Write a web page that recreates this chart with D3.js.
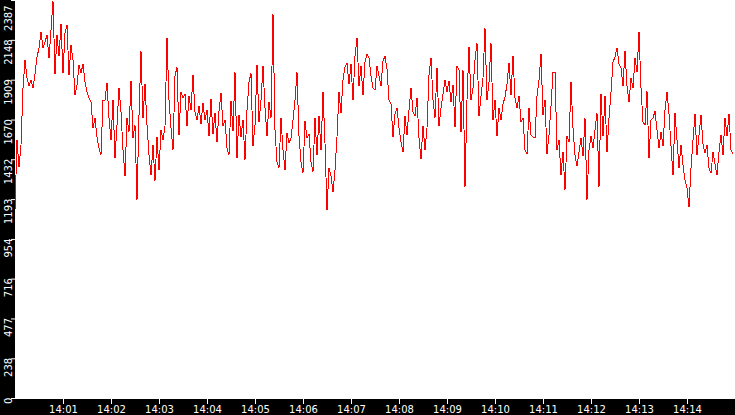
<!DOCTYPE html>
<html>
<head>
<meta charset="utf-8">
<script src="https://cdn.jsdelivr.net/npm/d3@7"></script>
<style>
  body { margin: 0; background: #000; }
  svg { display: block; }
  .axis text { font-family: "DejaVu Sans", sans-serif; font-size: 10px; fill: #fff; }
  .axis line { stroke: #fff; }
</style>
</head>
<body>
<svg id="chart" width="735" height="415"></svg>
<script>
// samples every 2.5 s starting 14:00:00
const part1 = [1127,1547,1385,1517,1859,2027,1919,1871,1907,1859,1943,2045,2099,2195,2099,2135,2177,2039,2207,2381,
  1943,2177,2051,2243,1949,2189,2237,1937,2117,2027,1817,1877,1997,1949,2003,1895,1835,1799,1775,1619,
  1679,1565,1499,1457,1787];
const part2 = [1787,1889,1679,1547,1787,1439,1637,1859,1715,1487,1331,1679,1595,1901,1559,1637,1187,1697,2081,1679,
  1883,1637,1457,1337,1517,1301,1565,1367,1607,1547,1631,2159,1787,1619,1487,1931,1985,1577,1835,1799,
  1823,1631,1811,1727,1937];
const part3 = [1715,1667,1751,1643,1769,1667,1727,1571,1793,1583,1709,1535,1721,1829,1631,1667,1499,1457,1781,1601,
  1955,1439,1697,1565,1667,1427,1727,1895,1949,1511,1637,1997,1655,1787,1991,1739,1571,1775,1679,2303,
  1607,1415,1379,1679,1487];
const part4 = [1367,1589,1529,1559,1667,1787,1955,1571,1415,1349,1661,1559,1583,1415,1355,1679,1457,1691,1487,1835,
  1529,1127,1379,1331,1235,1367,1565,1835,1709,1907,1985,2009,1883,2003,1787,2051,2159,1871,1991,1817,
  2015,2063,2039,1931,1859];
const part5 = [1847,1991,1931,1871,2021,2051,1973,1787,1763,1565,1703,1739,1619,1535,1475,1691,1577,1727,1859,1715,
  1691,1799,1559,1433,1631,1487,1619,1937,2039,1787,1679,1979,1631,1739,1823,1907,1835,1901,1775,1877,
  1625,1991,1967,1595,1967];
const part6 = [1265,1787,2105,1787,1859,2027,2129,1691,1811,1919,2219,1787,1895,2129,1667,1787,1571,1739,1667,1763,
  1805,1883,2009,1817,2051,1799,1739,1811,1655,1679,1487,1463,1739,1577,1565,1559,1811,1907,2063,1697,
  1787,1463,1577,1751,1955];
const part7 = [1955,1487,1547,1337,1475,1247,1571,1535,1895,1619,1457,1391,1475,1559,1451,1679,1187,1487,1571,1499,
  1607,1709,1265,1823,1571,1811,1475,1679,1835,2015,2045,2099,2003,1979,1871,2081,1871,1775,1919,1859,
  2039,1955,2195,1859,1655];
const part8 = [1637,1841,1439,1667,1679,1721,1607,1499,1595,1511,1727,1835,1703,1511,1337,1709,1547,1379,1517,1397,
  1307,1259,1145,1379,1547,1703,1457,1577,1697,1523,1469,1517,1379,1349,1475,1403,1337,1475,1577,1457,
  1679,1571,1703,1487,1463];

const yTickValues = [0, 238, 477, 716, 954, 1193, 1432, 1670, 1909, 2148, 2387];
const xTickLabels = ["14:01","14:02","14:03","14:04","14:05","14:06","14:07","14:08",
  "14:09","14:10","14:11","14:12","14:13","14:14"];

const width = 735, height = 415;
const left = 15, bottom = 399;
const stepMs = 2500;
const t0 = new Date(2000, 0, 1, 14, 0, 0);
const t1 = new Date(2000, 0, 1, 14, 15, 0);

let values = part1.concat(part2, part3, part4, part5, part6, part7, part8);
let series = values.map((v, i) => ({ t: new Date(t0.getTime() + i * stepMs), v: v }));

let svg = d3.select("#chart");

let x = d3.scaleTime().domain([t0, t1]).range([left, width]);
let y = d3.scaleLinear().domain([0, 2387]).range([bottom - 1, 0]);

svg.append("rect")
  .attr("width", width)
  .attr("height", height)
  .attr("fill", "#000");

// white plot area
svg.append("rect")
  .attr("x", left)
  .attr("y", 0)
  .attr("width", width - left)
  .attr("height", bottom)
  .attr("fill", "#fff");

let line = d3.line()
  .x(d => x(d.t))
  .y(d => y(d.v));

svg.append("path")
  .datum(series)
  .attr("d", line)
  .attr("fill", "none")
  .attr("stroke", "#ff0000")
  .attr("stroke-width", 1)
  .attr("shape-rendering", "crispEdges");

// time axis
let xTicks = xTickLabels.map(s => {
  let p = s.split(":");
  return new Date(2000, 0, 1, +p[0], +p[1], 0);
});
let xAxis = svg.append("g")
  .attr("class", "axis")
  .attr("transform", `translate(0,${bottom})`)
  .call(d3.axisBottom(x)
    .tickValues(xTicks)
    .tickFormat(d3.timeFormat("%H:%M"))
    .tickSizeInner(5)
    .tickSizeOuter(0));
xAxis.select(".domain").remove();
xAxis.selectAll(".tick text").attr("y", 7);

// value axis, labels turned on their side
let yAxis = svg.append("g")
  .attr("class", "axis")
  .attr("transform", `translate(${left},0)`)
  .call(d3.axisLeft(y)
    .tickValues(yTickValues)
    .tickFormat(d3.format("d"))
    .tickSizeInner(4)
    .tickSizeOuter(0));
yAxis.select(".domain").remove();
yAxis.selectAll(".tick text")
  .attr("x", 0)
  .attr("y", 0)
  .attr("dy", 0)
  .attr("text-anchor", "end")
  .attr("transform", d => `translate(-3,${Math.max(-1, 5 - y(d))}) rotate(-90)`);
</script>
</body>
</html>
